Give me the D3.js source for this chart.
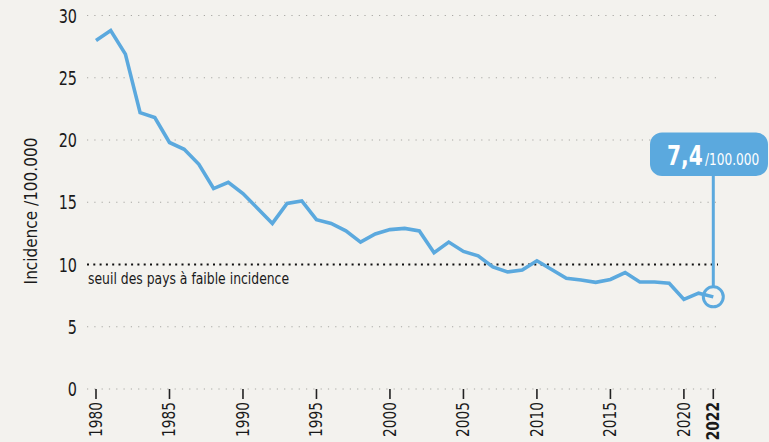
<!DOCTYPE html>
<html>
<head>
<meta charset="utf-8">
<script src="https://cdn.jsdelivr.net/npm/d3@7"></script>
<style>
  html, body { margin: 0; padding: 0; background: #f3f2ee; }
  svg { display: block; }
  text { font-family: "Liberation Sans Narrow", "DejaVu Sans Condensed", "Roboto", sans-serif; font-stretch: condensed; fill: #1a1a1a; }
</style>
</head>
<body>
<svg id="chart" width="769" height="442"></svg>
<script>
// ── Data ──────────────────────────────────────────────────────────────────
const years = d3.range(1980, 2023);
const incidence = [
  28.0, 28.8, 26.9, 22.2, 21.8, 19.8, 19.25, 18.05, 16.1, 16.6,
  15.7, 14.5, 13.3, 14.9, 15.1, 13.6, 13.3, 12.7, 11.8, 12.45,
  12.8, 12.9, 12.7, 10.95, 11.8, 11.05, 10.7, 9.8, 9.4, 9.55,
  10.3, 9.6, 8.9, 8.75, 8.57, 8.8, 9.35, 8.6, 8.6, 8.5,
  7.2, 7.7, 7.4
];
const yTicks = [0, 5, 10, 15, 20, 25, 30];
const xTicks = [1980, 1985, 1990, 1995, 2000, 2005, 2010, 2015, 2020, 2022];
const threshold = 10;
const thresholdLabel = 'seuil des pays à faible incidence';
const yTitle = 'Incidence /100.000';
const lastLabel = '7,4';
const lastUnit = '/100.000';

// ── Scales ────────────────────────────────────────────────────────────────
const svg = d3.select('#chart');
const x = d3.scaleLinear().domain([1980, 2022]).range([96, 713.3]);
const y = d3.scaleLinear().domain([0, 30]).range([389, 15.5]);
const blue = '#5ba9de';
const gridX0 = 87, gridX1 = 720;

// gridlines
svg.append('g').selectAll('line')
  .data(yTicks.filter(t => t !== threshold))
  .join('line')
  .attr('x1', gridX0).attr('x2', gridX1)
  .attr('y1', d => y(d)).attr('y2', d => y(d))
  .attr('stroke', '#a9a8a4').attr('stroke-width', 1.2)
  .attr('stroke-dasharray', '1.2 6.1');

// y labels (font squeezed to look condensed)
svg.append('g').selectAll('text')
  .data(yTicks)
  .join('text')
  .attr('transform', d => `translate(77,${y(d) + 7}) scale(0.8,1)`)
  .attr('text-anchor', 'end')
  .style('font-size', '20px')
  .text(d => d);

// y title
svg.append('text')
  .attr('transform', 'translate(37,211) rotate(-90)')
  .attr('text-anchor', 'middle')
  .style('font-size', '17px')
  .text(yTitle);

// threshold line
svg.append('line')
  .attr('x1', gridX0).attr('x2', 718)
  .attr('y1', y(threshold)).attr('y2', y(threshold))
  .attr('stroke', '#111').attr('stroke-width', 2)
  .attr('stroke-dasharray', '2 4.3');
svg.append('text')
  .attr('transform', `translate(88,${y(threshold) + 19}) scale(0.89,1)`)
  .style('font-size', '15.5px')
  .text(thresholdLabel);

// x ticks and labels
const xg = svg.append('g').selectAll('g')
  .data(xTicks)
  .join('g')
  .attr('transform', d => `translate(${x(d)},0)`);
xg.append('line')
  .attr('y1', 389).attr('y2', 399)
  .attr('stroke', '#222').attr('stroke-width', 1.6);
xg.append('text')
  .attr('transform', 'translate(6,402) rotate(-90) scale(0.9,1)')
  .attr('text-anchor', 'end')
  .style('font-size', '17px')
  .style('font-weight', d => d === 2022 ? 'bold' : 'normal')
  .text(d => d);

// line
const line = d3.line().x((d, i) => x(years[i])).y(d => y(d));
svg.append('path')
  .datum(incidence)
  .attr('d', line)
  .attr('fill', 'none')
  .attr('stroke', blue)
  .attr('stroke-width', 3.6)
  .attr('stroke-linejoin', 'miter');

// callout
const lx = x(2022), ly = y(incidence[incidence.length - 1]);
svg.append('line')
  .attr('x1', lx).attr('x2', lx)
  .attr('y1', 170).attr('y2', ly - 10)
  .attr('stroke', blue).attr('stroke-width', 3);
svg.append('circle')
  .attr('cx', lx).attr('cy', ly).attr('r', 10)
  .attr('fill', 'none').attr('stroke', blue).attr('stroke-width', 3);
svg.append('rect')
  .attr('x', 650).attr('y', 132.5)
  .attr('width', 118).attr('height', 43.5)
  .attr('rx', 12).attr('fill', blue);
svg.append('text')
  .attr('transform', 'translate(667,165) scale(0.83,1)')
  .style('font-size', '27px').style('font-weight', 'bold').style('fill', '#fff')
  .text(lastLabel);
svg.append('text')
  .attr('transform', 'translate(705,165) scale(0.9,1)')
  .style('font-size', '15px').style('fill', '#fff')
  .text(lastUnit);
</script>
</body>
</html>
